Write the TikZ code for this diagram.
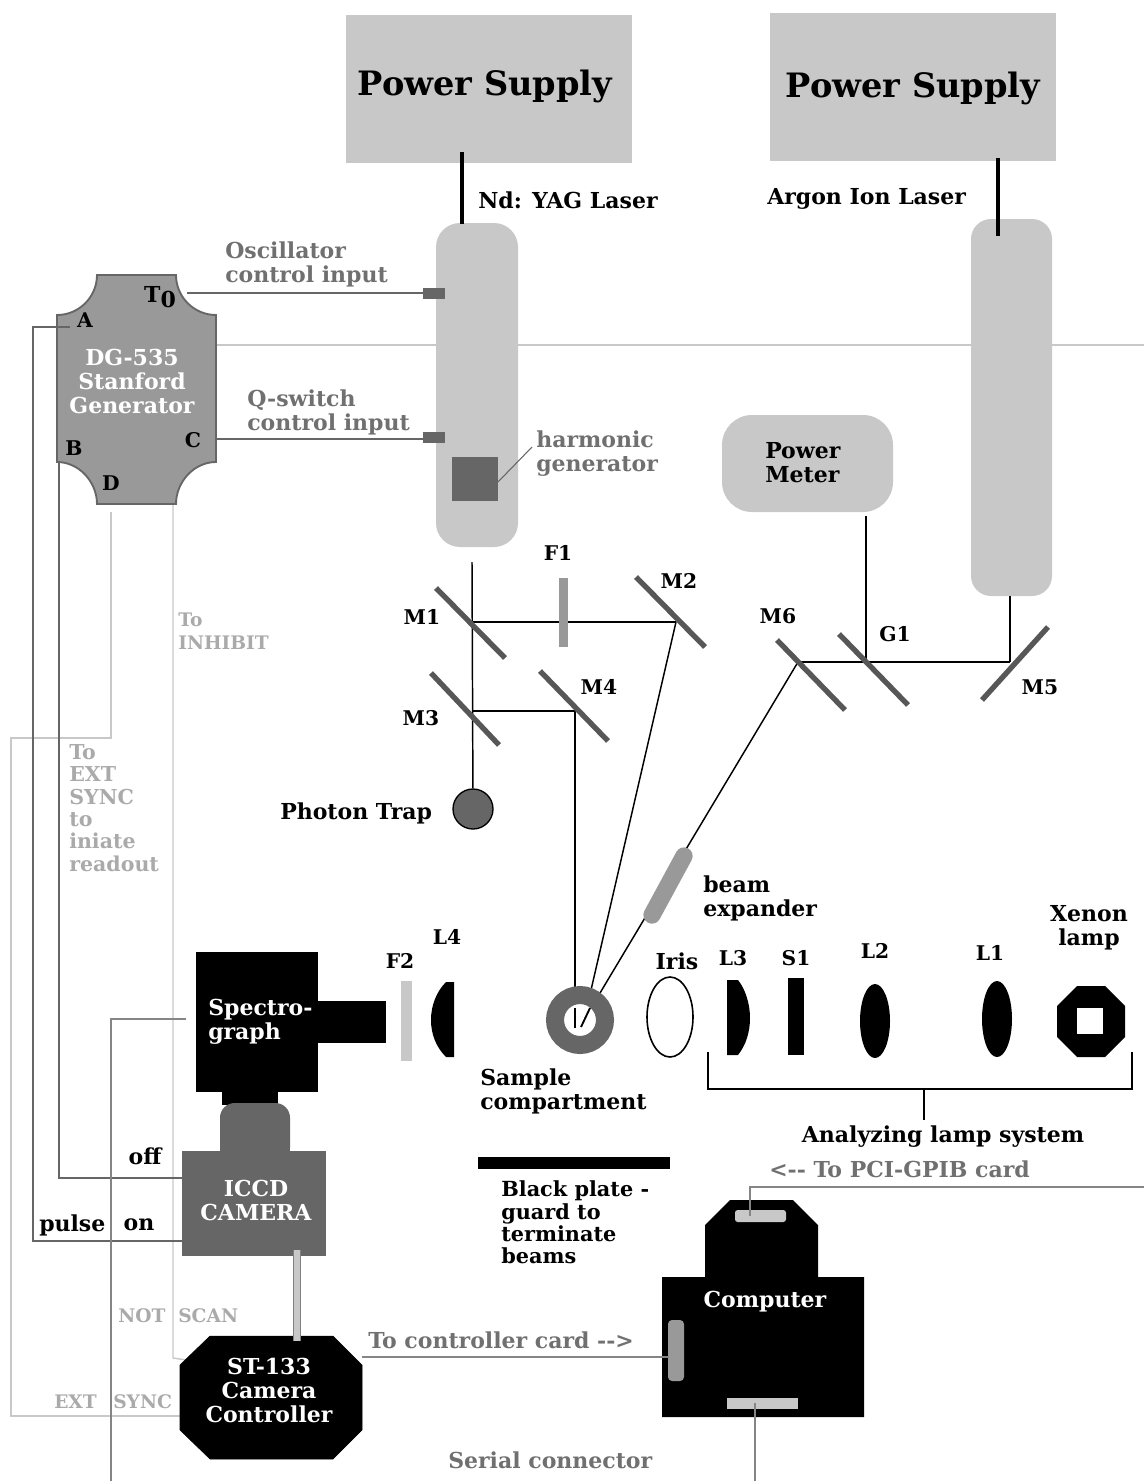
\documentclass[tikz,border=0pt]{standalone}
\usepackage{fontspec}
\usetikzlibrary{shapes.geometric}
\setmainfont{DejaVu Serif}[BoldFont={DejaVu Serif Bold}]
\definecolor{lg}{HTML}{C8C8C8}
\definecolor{mg}{HTML}{666666}
\definecolor{gt}{HTML}{707070}
\definecolor{dgfill}{HTML}{999999}
\definecolor{tg}{HTML}{AAAAAA}
\tikzset{
 bx/.style 2 args={draw=none,inner sep=0pt,minimum width=#1*0.75pt,minimum height=#2*0.75pt},
 txt/.style={inner sep=0pt,font=\bfseries\fontsize{16.5pt}{18pt}\selectfont,align=left,anchor=west,text=black},
 ctxt/.style={txt,align=center,anchor=center},
 lab/.style={ctxt,font=\bfseries\fontsize{15.2pt}{18pt}\selectfont},
 gtxt/.style={txt,text=gt},
 ltxt/.style={txt,text=tg,font=\bfseries\fontsize{14pt}{16.8pt}\selectfont},
 wtxt/.style={ctxt,text=white},
 bigtxt/.style={ctxt,font=\bfseries\fontsize{25.2pt}{30pt}\selectfont},
 beam/.style={draw=black,line width=1.1pt},
 sig/.style={draw=mg,line width=1.3pt},
 sigl/.style={draw=lg,line width=1.1pt},
 wire/.style={draw=mg!80,line width=1.1pt},
 mirror/.style={draw=mg!85!black,line width=4pt},
}
\begin{document}
\begin{tikzpicture}[x=0.75pt,y=-0.75pt]
\useasboundingbox (0,0) rectangle (1144,1481);
% terminals
\coordinate (tT) at (187,293);
\coordinate (tA) at (70,327);
\coordinate (tAa) at (33,327);
\coordinate (tAb) at (33,1241);
\coordinate (iOn) at (182,1241);
\coordinate (tB) at (59,462);
\coordinate (tBb) at (59,1178);
\coordinate (iOff) at (182,1178);
\coordinate (tC) at (216,439);
\coordinate (tD) at (111,512);
\coordinate (tDa) at (111,738);
\coordinate (tDb) at (11,738);
\coordinate (tDc) at (11,1416);
\coordinate (cExt) at (184,1416);
\coordinate (tN) at (173,504);
\coordinate (tNa) at (173,1358);
\coordinate (cNot) at (193,1361);
\coordinate (sLine) at (186,1019);
\coordinate (sLa) at (111,1019);
\coordinate (sLb) at (111,1481);
\coordinate (hline) at (214,345);
\coordinate (hlineE) at (1144,345);
% long light line behind tubes
\draw[sigl] (hline) -- (hlineE);
\draw[sigl] (tD) -- (tDa) -- (tDb) -- (tDc) -- (cExt);
\draw[sigl] (tN) -- (tNa) -- (cNot);
\draw[sig] (tA) -- (tAa) -- (tAb) -- (iOn);
\draw[sig] (tB) -- (tBb) -- (iOff);
\draw[draw=mg!80,line width=1.3pt] (sLine) -- (sLa) -- (sLb);
% power supplies
\node[bx={286}{148},fill=lg] (ps1) at (489,89) {};
\node[bx={286}{148},fill=lg] (ps2) at (913,87) {};
\node[bigtxt] (ps1t) at (485,86) {Power Supply};
\node[bigtxt] (ps2t) at (913,88) {Power Supply};
% tubes
\node[bx={82}{324},fill=lg,rounded corners=18pt] (yag) at (477,385) {};
\node[bx={81}{377},fill=lg,rounded corners=15pt] (argon) at (1011.5,407.5) {};
\coordinate (pa) at (462,152);
\coordinate (pb) at (462,224);
\coordinate (pc) at (998,158);
\coordinate (pd) at (998,236);
\draw[line width=2.3pt] (pa) -- (pb);
\draw[line width=2.3pt] (pc) -- (pd);
\node[txt] (ndl) at (478,200) {Nd: YAG Laser};
\node[txt] (arl) at (767,199) {Argon Ion Laser};
% ports
\node[bx={22}{11},fill=mg] (osc) at (434,293.5) {};
\node[bx={22}{11},fill=mg] (qsw) at (434,437.5) {};
\node[bx={46}{44},fill=mg] (hg) at (475,479) {};
\coordinate (hga) at (498,482);
\coordinate (hgb) at (532,447);
\draw[draw=mg,line width=0.8pt] (hga) -- (hgb);
\coordinate (qsT) at (423,439);
\coordinate (osT) at (423,293);
\draw[sig] (tT) -- (osT);
\draw[sig] (tC) -- (qsT);
% DG-535
\draw[fill=dgfill,draw=mg,line width=1.4pt] (57,315) .. controls (79,315) and (97,297) .. (97,275) -- (176,275) .. controls (176,297) and (194,315) .. (216,315) -- (216,462) .. controls (194,462) and (176,482) .. (176,504) -- (97,504) .. controls (97,482) and (79,462) .. (57,462) -- cycle;
\draw[sig] (tAa) -- (tA);
\node[wtxt] (dg) at (132,381) {DG-535\\Stanford\\Generator};
\node[ctxt] (lT) at (160,297) {T\raisebox{-4pt}{0}};
\node[lab] (lA) at (85,320) {A};
\node[lab] (lB) at (74,448) {B};
\node[lab] (lC) at (193,440) {C};
\node[lab] (lD) at (111,483) {D};
\node[gtxt] (oscl) at (225,264) {Oscillator\\control input};
\node[gtxt] (qswl) at (247,412) {Q-switch\\control input};
\node[gtxt] (hgl) at (536,454) {harmonic\\generator};
% power meter
\node[bx={171}{97},fill=lg,rounded corners=22.5pt] (pm) at (807.5,463.5) {};
\node[txt] (pml) at (765,463) {Power\\Meter};
% beams
\coordinate (m1c) at (472,622);
\coordinate (m2c) at (676,622);
\coordinate (m3c) at (472,711);
\coordinate (m4c) at (575,711);
\coordinate (m5c) at (1010,662);
\coordinate (m6c) at (798,662);
\coordinate (g1c) at (866,662);
\coordinate (yagb) at (472,562);
\coordinate (argb) at (1010,596);
\coordinate (pmb) at (866,516);
\coordinate (smA) at (575,990);
\coordinate (smB) at (591,990);
\coordinate (smC) at (600,993);
\node[circle,draw=black,fill=mg,line width=1pt,minimum size=30pt,inner sep=0pt] (trap) at (473,809) {};
\draw[beam] (yagb) -- (trap);
\draw[beam] (m1c) -- (m2c);
\draw[beam] (m3c) -- (m4c);
\draw[beam] (m4c) -- (smA);
\draw[beam] (m2c) -- (smB);
\draw[beam] (m6c) -- (smC);
\draw[beam] (m6c) -- (m5c);
\draw[beam] (argb) -- (m5c);
\draw[beam] (pmb) -- (g1c);
% mirrors
\draw[mirror] (436,588) -- (505,658);
\draw[mirror] (636,577) -- (705,647);
\draw[mirror] (431,673) -- (499,745);
\draw[mirror] (540,671) -- (608,741);
\draw[mirror] (1048,627) -- (982,700);
\draw[mirror] (839,634) -- (908,705);
\draw[mirror] (777,640) -- (845,710);
\node[bx={9}{69},fill=dgfill] (f1) at (563.5,612.5) {};
\node[lab] (lM1) at (422,617) {M1};
\node[lab] (lF1) at (558,553) {F1};
\node[lab] (lM2) at (679,581) {M2};
\node[lab] (lM3) at (421,718) {M3};
\node[lab] (lM4) at (599,687) {M4};
\node[lab] (lM6) at (778,616) {M6};
\node[lab] (lG1) at (895,634) {G1};
\node[lab] (lM5) at (1040,687) {M5};
\node[txt] (ptl) at (280,813) {Photon Trap};
\node[ltxt] (inh) at (178,631) {To\\INHIBIT};
\node[ltxt,font=\bfseries\fontsize{15.4pt}{16.8pt}\selectfont] (ext) at (69,808) {To\\EXT\\SYNC\\to\\iniate\\readout};
% beam expander
\draw[draw=dgfill,line width=13pt,line cap=round] (684,856) -- (652,915);
\node[txt] (bel) at (703,898) {beam\\expander};
% sample
\node[circle,draw=mg,line width=13.5pt,fill=white,minimum size=37.5pt,inner sep=0pt] (samp) at (580,1020) {};
\draw[line width=1pt] (575,1008) -- (575,1028);
\draw[line width=1.4pt] (590,1008) -- (581,1027);
\node[txt] (sampl) at (480,1091) {Sample\\compartment};
% spectrograph
\node[bx={122}{140},fill=black] (spec) at (257,1022) {};
\node[bx={68}{42},fill=black] (arm) at (352,1022) {};
\node[bx={56}{14},fill=black] (neck) at (250,1098) {};
\node[txt,text=white] (specl) at (208,1022) {Spectro-\\graph};
\node[bx={70}{60},fill=mg,rounded corners=11pt] (cap) at (255,1133) {};
\node[bx={144}{105},fill=mg] (iccd) at (254,1203.5) {};
\node[wtxt] (iccdl) at (256,1200) {ICCD\\CAMERA};
\node[ctxt] (loff) at (145,1156) {off};
\node[txt] (lpulse) at (39,1225) {pulse};
\node[ctxt] (lon) at (139,1225) {on};
\node[ltxt] (lnot) at (118,1316) {NOT};
\node[ltxt] (lscan) at (178,1316) {SCAN};
\node[ltxt] (lext) at (54,1402) {EXT};
\node[ltxt] (lsync) at (113,1402) {SYNC};
% ST-133
\coordinate (st1) at (297,1250);
\coordinate (st2) at (297,1341);
\draw[fill=black] (210,1336) -- (333,1336) -- (362,1365) -- (362,1430) -- (333,1459) -- (210,1459) -- (180,1430) -- (180,1365) -- cycle;
\draw[draw=gray,line width=6pt] (st1) -- (st2);
\draw[draw=lg,line width=4pt] (st1) -- (st2);
\node[wtxt] (stl) at (269,1390) {ST-133\\Camera\\Controller};
% optics
\node[bx={11}{80},fill=lg] (f2) at (406.5,1021) {};
\draw[fill=black,draw=none] (454,982) -- (446,982) .. controls (436,992) and (431,1006) .. (431,1020) .. controls (431,1034) and (436,1047) .. (446,1057) -- (454,1057) -- cycle;
\node[lab] (lF2) at (400,961) {F2};
\node[lab] (lL4) at (447,937) {L4};
\node[ellipse,draw=black,line width=1.2pt,fill=white,minimum width=34.5pt,minimum height=60pt,inner sep=0pt] (iris) at (670,1017) {};
\node[ctxt] (liris) at (677,961) {Iris};
\draw[fill=black,draw=none] (727,980) -- (738,980) .. controls (746,990) and (750,1005) .. (750,1018) .. controls (750,1032) and (746,1045) .. (738,1055) -- (727,1055) -- cycle;
\node[lab] (lL3) at (733,958) {L3};
\node[bx={16}{77},fill=black] (s1) at (796,1016.5) {};
\node[lab] (lS1) at (796,958) {S1};
\node[ellipse,fill=black,minimum width=22.5pt,minimum height=55.5pt,inner sep=0pt] (l2) at (875,1021) {};
\node[lab] (lL2) at (875,951) {L2};
\node[ellipse,fill=black,minimum width=22.5pt,minimum height=57pt,inner sep=0pt] (l1) at (997,1019) {};
\node[lab] (lL1) at (990,953) {L1};
\node[ctxt] (xel) at (1089,928) {Xenon\\lamp};
\draw[fill=black,draw=none] (1077,986) -- (1105,986) -- (1125,1006) -- (1125,1037) -- (1105,1057) -- (1077,1057) -- (1057,1037) -- (1057,1006) -- cycle;
\node[bx={26}{26},fill=white] (xew) at (1090,1021) {};
% bracket
\coordinate (b1) at (708,1052);
\coordinate (b2) at (708,1089);
\coordinate (b3) at (1132,1089);
\coordinate (b4) at (1132,1052);
\coordinate (b5) at (924,1089);
\coordinate (b6) at (924,1120);
\draw[line width=1.1pt] (b1) -- (b2) -- (b3) -- (b4);
\draw[line width=1.1pt] (b5) -- (b6);
\node[ctxt] (anl) at (943,1137) {Analyzing lamp system};
% plate
\node[bx={192}{12},fill=black] (plate) at (574,1163) {};
\node[txt,font=\bfseries\fontsize{15.6pt}{16.8pt}\selectfont] (platel) at (501,1222.5) {Black plate -\\guard to\\terminate\\beams};
% computer
\node[gtxt] (pci) at (769,1169) {<-{}- To PCI-GPIB card};
\coordinate (c1) at (750,1216);
\coordinate (c2) at (750,1187);
\coordinate (c3) at (1144,1187);
\coordinate (c4) at (755,1403);
\coordinate (c5) at (755,1481);
\coordinate (c6) at (362,1357);
\coordinate (c7) at (669,1357);
\draw[fill=black,draw=none] (730,1200) -- (793,1200) -- (818,1225) -- (818,1277) -- (864,1277) -- (864,1417) -- (662,1417) -- (662,1277) -- (705,1277) -- (705,1225) -- cycle;
\node[wtxt] (cmp) at (765,1302) {Computer};
\node[bx={51}{12},fill=lg,rounded corners=2pt] (slot1) at (760.5,1216) {};
\node[bx={16}{61},fill=dgfill,rounded corners=3pt] (slot2) at (676,1350.5) {};
\node[bx={71}{11},fill=lg] (slot3) at (762.5,1403.5) {};
\draw[wire] (c1) -- (c2) -- (c3);
\draw[wire] (c4) -- (c5);
\draw[wire] (c6) -- (c7);
\node[gtxt] (ctl) at (368,1340) {To controller card -{}->};
\node[gtxt] (ser) at (448,1460) {Serial connector};
\end{tikzpicture}
\end{document}
